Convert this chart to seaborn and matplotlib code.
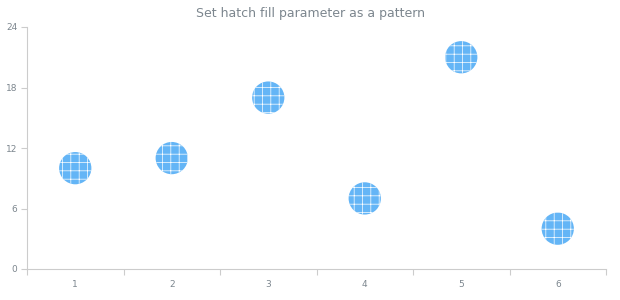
import matplotlib
matplotlib.use("Agg")
import matplotlib.pyplot as plt
import seaborn as sns
import pandas as pd
import numpy as np

categories = [1, 2, 3, 4, 5, 6]
values = [10, 11, 17, 7, 21, 4]
y_ticks = [0, 6, 12, 18, 24]
title = "Set hatch fill parameter as a pattern"

sns.set_style("white")
plt.rcParams['font.family'] = ['DejaVu Sans']
plt.rcParams['hatch.color'] = 'white'
plt.rcParams['hatch.linewidth'] = 0.5

df = pd.DataFrame({"x": categories, "y": values})

fig = plt.figure(figsize=(6.2, 3.0), dpi=100)
ax = fig.add_axes([27/620, 1-269/300, (606-27)/620, (269-27)/300])

sns.scatterplot(data=df, x="x", y="y", ax=ax, s=540, color="#64b5f6",
                edgecolor="white", linewidth=0, zorder=3, legend=False)
coll = ax.collections[0]
coll.set_hatch("++")

ax.set_xlim(0.5, 6.5)
ax.set_ylim(0, 24)
ax.set_yticks(y_ticks)
ax.set_xticks(categories)
ax.set_xticks(np.arange(0.5, 7.0, 1.0), minor=True)
ax.set_xlabel("")
ax.set_ylabel("")

gray = "#7c868e"
ax.tick_params(axis="x", which="major", length=0, labelsize=6.5, labelcolor=gray, pad=8)
ax.tick_params(axis="x", which="minor", length=4, color="#cccccc", width=0.8, bottom=True)
ax.tick_params(axis="y", which="major", length=4, color="#cccccc", width=0.8, labelsize=6.5,
               labelcolor=gray, pad=3, left=True)

for s in ["top", "right"]:
    ax.spines[s].set_visible(False)
for s in ["left", "bottom"]:
    ax.spines[s].set_color("#cccccc")
    ax.spines[s].set_linewidth(0.8)

fig.text(0.5, 1-14/300, title, ha="center", va="center", fontsize=9, color=gray)

fig.savefig("out.png", dpi=100)
